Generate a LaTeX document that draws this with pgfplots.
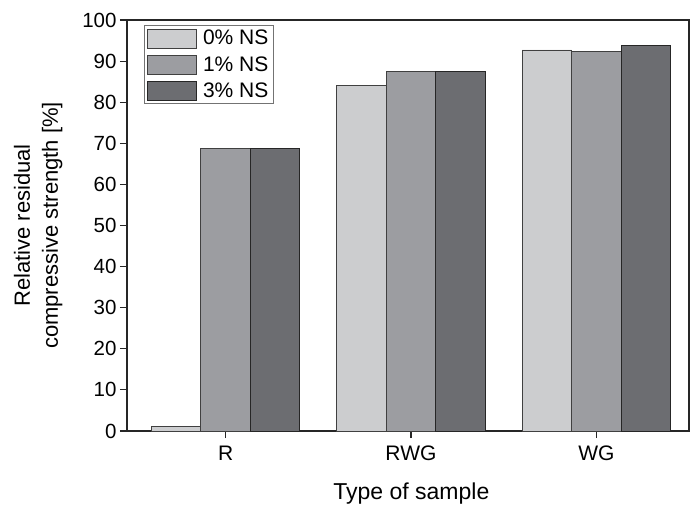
\documentclass[border=0pt]{standalone}
\usepackage{pgfplots}
\pgfplotsset{compat=1.18}
\usepackage{fontspec}
\setmainfont{Liberation Sans}
\definecolor{cA}{RGB}{204,205,207}
\definecolor{cB}{RGB}{156,157,161}
\definecolor{cC}{RGB}{108,109,113}
\newcommand{\ytf}{\fontsize{20.5pt}{23pt}\selectfont}
\newcommand{\xtf}{\fontsize{21pt}{24pt}\selectfont}
\newcommand{\ylf}{\fontsize{22pt}{28pt}\selectfont}
\newcommand{\xlf}{\fontsize{23pt}{26pt}\selectfont}
\newcommand{\lgf}{\fontsize{21pt}{24pt}\selectfont}
\begin{document}
\begin{tikzpicture}[font=\ytf]
\begin{axis}[
  name=ax,
  scale only axis,
  width=562pt, height=411pt,
  xmin=-0.532, xmax=2.5,
  ymin=0, ymax=100,
  ytick={0,10,...,100},
  xtick={0,1,2},
  xticklabels={R,RWG,WG},
  tick align=outside,
  major tick length=7pt,
  xtick pos=bottom, ytick pos=left,
  axis line style={line width=1.1pt, black!85},
  tick style={line width=1.1pt, black!85},
  /pgf/number format/assume math mode=true,
  yticklabel style={font=\ytf},
  xticklabel style={font=\xtf, yshift=-4.5pt},
  xlabel={Type of sample},
  ylabel={Relative residual\\compressive strength [\%]},
  xlabel style={font=\xlf, at={(axis description cs:0.506,-0.1655)}, anchor=base},
  ylabel style={font=\ylf, align=center, at={(axis description cs:-0.158,0.5)}, anchor=center},
  ybar, bar width=0.267,
  legend cell align=left,
  legend style={at={(0.030,0.988)}, anchor=north west, draw=black!55, line width=0.8pt,
    font=\lgf, row sep=5pt, inner sep=2.5pt,
    nodes={inner sep=2.5pt},
    /tikz/every odd column/.append style={column sep=4pt}},
  legend image code/.code={\draw[#1] (0pt,-9.5pt) rectangle (49pt,9.5pt);},
]
\addplot[fill=cA, draw=black!75, line width=0.8pt, bar shift=-0.267] coordinates {(0,1.0) (1,84.1) (2,92.7)};
\addplot[fill=cB, draw=black!75, line width=0.8pt, bar shift=0] coordinates {(0,68.8) (1,87.4) (2,92.3)};
\addplot[fill=cC, draw=black!85, line width=0.8pt, bar shift=0.267] coordinates {(0,68.7) (1,87.4) (2,93.9)};
\legend{0\% NS,1\% NS,3\% NS}
\end{axis}
\pgfresetboundingbox
\path[use as bounding box] ([shift={(-127pt,-75pt)}]ax.south west) rectangle ([shift={(1pt,20pt)}]ax.north east);
\end{tikzpicture}
\end{document}
